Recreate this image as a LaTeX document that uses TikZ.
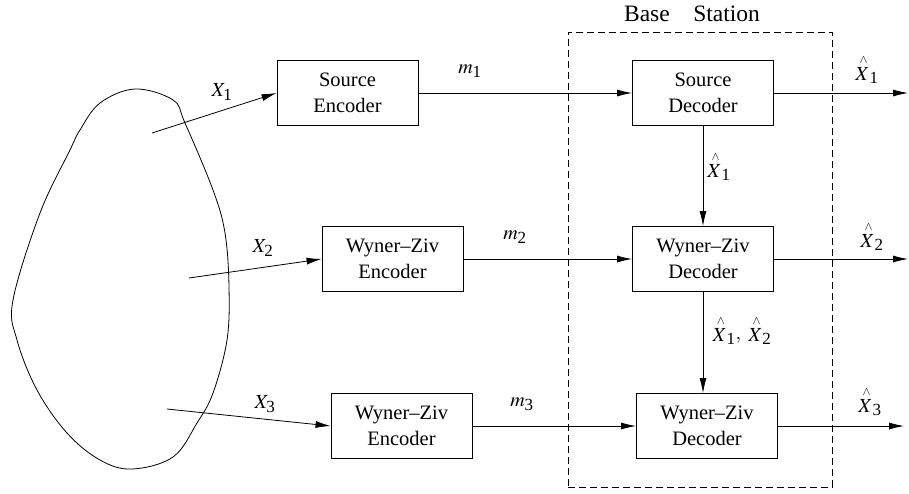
\documentclass[tikz,border=0pt]{standalone}
\usepackage{mathptmx}
\usepackage{fontspec}
\setmainfont{Liberation Serif}
\usetikzlibrary{arrows.meta}
\newcommand{\sub}[1]{\mbox{\fontsize{17}{20}\selectfont #1}}
\newcommand{\hx}{{\stackrel{\scriptscriptstyle\wedge}{X}}}
\begin{document}
\begin{tikzpicture}[x=1pt,y=-1pt,
  blk/.style={draw,line width=0.9pt,minimum width=141pt,minimum height=65pt,inner sep=0pt,align=center,font=\fontsize{20.5}{25.5}\selectfont},
  arr/.style={line width=0.8pt,-{Latex[length=15pt,width=7pt]}},
  lbl/.style={inner sep=0pt,font=\fontsize{20}{24}\selectfont}]
\useasboundingbox (0,0) rectangle (909,493);
% blob
\draw[line width=0.8pt] plot[smooth cycle,tension=0.6] coordinates {(135,89) (173,100) (185,123) (213,190) (225,233) (229,287) (227,340) (213,393) (197,423) (173,457) (132,469) (100,460) (67,433) (37,390) (17,340) (13,300) (40,213) (70,150) (80,130) (100,103)};
% base station
\node[draw,dashed,dash pattern=on 7pt off 4pt,line width=0.7pt,minimum width=264pt,minimum height=455pt,inner sep=0pt] (bs) at (700,259.5) {};
\node[lbl,font=\fontsize{23.5}{26}\selectfont] (bst) at (692,14) {Base\quad Station};
% blocks
\node[blk] (se) at (347.5,93) {Source\\Encoder};
\node[blk] (we2) at (392.5,259) {Wyner--Ziv\\Encoder};
\node[blk] (we3) at (401.5,426) {Wyner--Ziv\\Encoder};
\node[blk] (sd) at (703,93) {Source\\Decoder};
\node[blk] (wd2) at (703,259) {Wyner--Ziv\\Decoder};
\node[blk] (wd3) at (707,426) {Wyner--Ziv\\Decoder};
% sources
\coordinate (x1s) at (152,133);
\coordinate (x2s) at (189,278);
\coordinate (x3s) at (167,409);
\draw[arr] (x1s) -- (se.west);
\draw[arr] (x2s) -- (we2.west);
\draw[arr] (x3s) -- (we3.west);
\node[lbl] (lx1) at (222,92) {$X_{\sub{1}}$};
\node[lbl] (lx2) at (263,248) {$X_{\sub{2}}$};
\node[lbl] (lx3) at (265,404) {$X_{\sub{3}}$};
% messages
\draw[arr] (se.east) -- (sd.west);
\draw[arr] (we2.east) -- (wd2.west);
\draw[arr] (we3.east) -- (wd3.west);
\node[lbl] (lm1) at (470,71) {$m_{\sub{1}}$};
\node[lbl] (lm2) at (515,237) {$m_{\sub{2}}$};
\node[lbl] (lm3) at (522,404) {$m_{\sub{3}}$};
% side info
\draw[arr] (sd.south) -- (wd2.north);
\draw[arr] (wd2.south) -- (wd2.south |- wd3.north);
\node[lbl] (lh1) at (719,166) {$\hx_{\sub{1}}$};
\node[lbl] (lh12) at (742,330) {$\hx_{\sub{1}},\ \hx_{\sub{2}}$};
% outputs
\coordinate (o1) at (908,93);
\coordinate (o2) at (908,259);
\coordinate (o3) at (904,426);
\draw[arr] (sd.east) -- (o1);
\draw[arr] (wd2.east) -- (o2);
\draw[arr] (wd3.east) -- (o3);
\node[lbl] (lo1) at (867,69) {$\hx_{\sub{1}}$};
\node[lbl] (lo2) at (872,236) {$\hx_{\sub{2}}$};
\node[lbl] (lo3) at (870,401) {$\hx_{\sub{3}}$};
\end{tikzpicture}
\end{document}
